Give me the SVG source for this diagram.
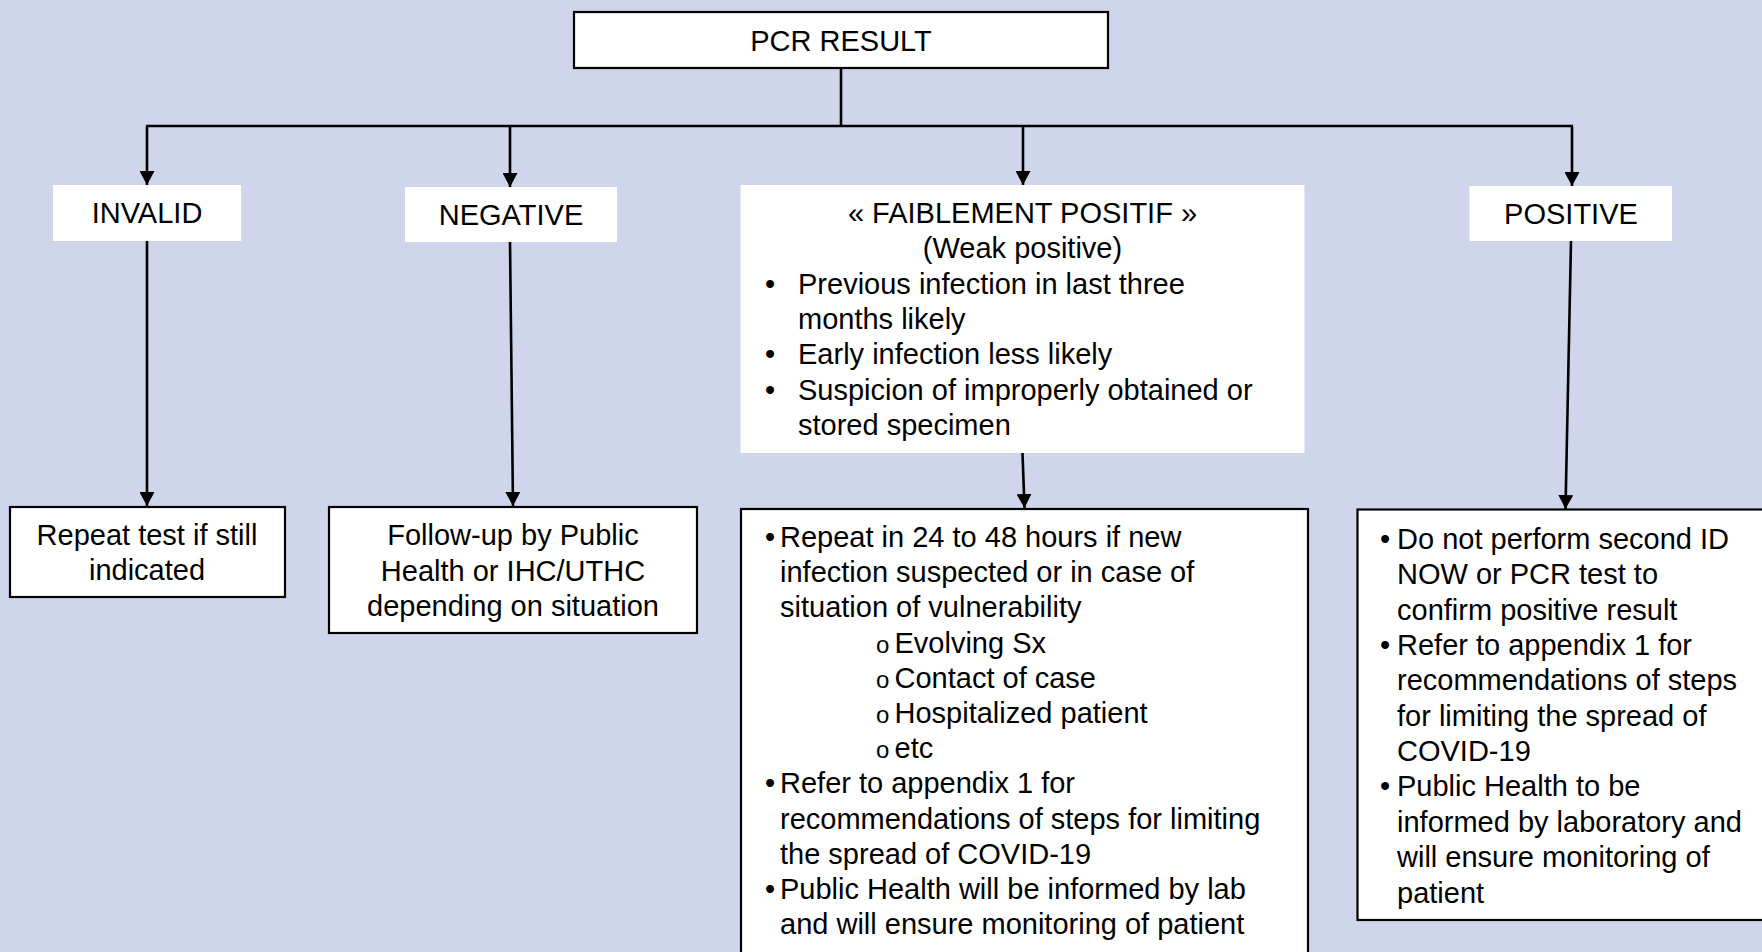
<svg xmlns="http://www.w3.org/2000/svg" width="1762" height="952" viewBox="0 0 1762 952">
<defs>
<marker id="arr" markerUnits="userSpaceOnUse" markerWidth="15" markerHeight="15" refX="14" refY="7.5" orient="auto">
<path d="M0,0 L14,7.5 L0,15 z" fill="#000"/>
</marker>
<style>
.bg{fill:#CFD5EA}
.lbl{fill:#fff;stroke:none}
.box{fill:#fff;stroke:#000;stroke-width:2.2}
.t{font-family:"Liberation Sans",Arial,sans-serif;font-size:29px;fill:#000}
.c{text-anchor:middle}
.sub{font-family:"Liberation Sans",Arial,sans-serif;font-size:24px;fill:#000}
.ln{fill:none;stroke:#000;stroke-width:2.6}
</style>
</defs>
<rect class="bg" x="0" y="0" width="1762" height="952"/>

<g id="connectors">
<path class="ln" d="M841,68 V126 M146,126 H1573"/>
<path class="ln" d="M147,126 V185" marker-end="url(#arr)"/>
<path class="ln" d="M510,126 V187" marker-end="url(#arr)"/>
<path class="ln" d="M1023,126 V185" marker-end="url(#arr)"/>
<path class="ln" d="M1572,126 V186" marker-end="url(#arr)"/>
<path class="ln" d="M147,241 V506" marker-end="url(#arr)"/>
<path class="ln" d="M510,242 L513,506" marker-end="url(#arr)"/>
<path class="ln" d="M1022.5,453 L1024.5,508" marker-end="url(#arr)"/>
<path class="ln" d="M1571,241 L1565.5,509" marker-end="url(#arr)"/>
</g>

<g id="pcr-result">
<rect class="box" x="574" y="12" width="534" height="56"/>
<text class="t c" x="841" y="51">PCR RESULT</text>
</g>

<g id="invalid">
<rect class="lbl" x="53" y="185" width="188" height="56"/>
<text class="t c" x="147" y="223">INVALID</text>
</g>

<g id="negative">
<rect class="lbl" x="405" y="187" width="212" height="55"/>
<text class="t c" x="511" y="225">NEGATIVE</text>
</g>

<g id="weak-positive">
<rect class="lbl" x="740.5" y="185" width="564" height="268"/>
<text class="t c" x="1022.5" y="223">« FAIBLEMENT POSITIF »</text>
<text class="t c" x="1022.5" y="258.3">(Weak positive)</text>
<text class="t" x="765" y="293.6">•</text>
<text class="t" x="798" y="293.6">Previous infection in last three</text>
<text class="t" x="798" y="328.9">months likely</text>
<text class="t" x="765" y="364.2">•</text>
<text class="t" x="798" y="364.2">Early infection less likely</text>
<text class="t" x="765" y="399.5">•</text>
<text class="t" x="798" y="399.5">Suspicion of improperly obtained or</text>
<text class="t" x="798" y="434.8">stored specimen</text>
</g>

<g id="positive">
<rect class="lbl" x="1469.5" y="186" width="202.5" height="55"/>
<text class="t c" x="1571" y="224">POSITIVE</text>
</g>

<g id="repeat-test">
<rect class="box" x="10" y="507" width="275" height="90"/>
<text class="t c" x="147" y="544.5">Repeat test if still</text>
<text class="t c" x="147" y="580">indicated</text>
</g>

<g id="follow-up">
<rect class="box" x="329" y="507" width="368" height="126"/>
<text class="t c" x="513" y="545">Follow-up by Public</text>
<text class="t c" x="513" y="580.5">Health or IHC/UTHC</text>
<text class="t c" x="513" y="616">depending on situation</text>
</g>

<g id="weak-actions">
<rect class="box" x="741" y="509" width="567" height="460"/>
<text class="t" x="765" y="547">•</text>
<text class="t" x="780" y="547">Repeat in 24 to 48 hours if new</text>
<text class="t" x="780" y="582.2">infection suspected or in case of</text>
<text class="t" x="780" y="617.4">situation of vulnerability</text>
<text class="sub" x="876" y="652.6">o</text>
<text class="t" x="894.5" y="652.6">Evolving Sx</text>
<text class="sub" x="876" y="687.8">o</text>
<text class="t" x="894.5" y="687.8">Contact of case</text>
<text class="sub" x="876" y="723">o</text>
<text class="t" x="894.5" y="723">Hospitalized patient</text>
<text class="sub" x="876" y="758.2">o</text>
<text class="t" x="894.5" y="758.2">etc</text>
<text class="t" x="765" y="793.4">•</text>
<text class="t" x="780" y="793.4">Refer to appendix 1 for</text>
<text class="t" x="780" y="828.6">recommendations of steps for limiting</text>
<text class="t" x="780" y="863.8">the spread of COVID-19</text>
<text class="t" x="765" y="899">•</text>
<text class="t" x="780" y="899">Public Health will be informed by lab</text>
<text class="t" x="780" y="934.2">and will ensure monitoring of patient</text>
</g>

<g id="positive-actions">
<rect class="box" x="1357.5" y="509.5" width="420" height="410.5"/>
<text class="t" x="1380" y="549">•</text>
<text class="t" x="1397" y="549">Do not perform second ID</text>
<text class="t" x="1397" y="584.3">NOW or PCR test to</text>
<text class="t" x="1397" y="619.7">confirm positive result</text>
<text class="t" x="1380" y="655">•</text>
<text class="t" x="1397" y="655">Refer to appendix 1 for</text>
<text class="t" x="1397" y="690.4">recommendations of steps</text>
<text class="t" x="1397" y="725.7">for limiting the spread of</text>
<text class="t" x="1397" y="761.1">COVID-19</text>
<text class="t" x="1380" y="796.4">•</text>
<text class="t" x="1397" y="796.4">Public Health to be</text>
<text class="t" x="1397" y="831.8">informed by laboratory and</text>
<text class="t" x="1397" y="867.1">will ensure monitoring of</text>
<text class="t" x="1397" y="902.5">patient</text>
</g>
</svg>
